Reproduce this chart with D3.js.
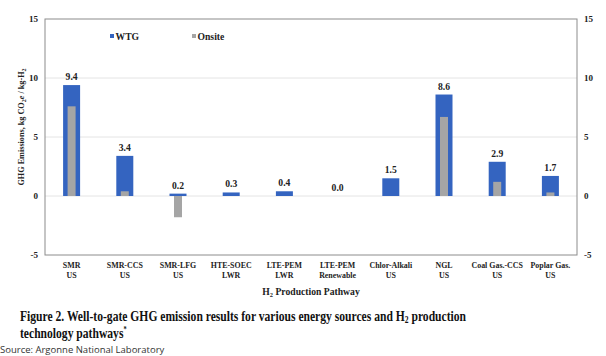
<!DOCTYPE html>
<html><head><meta charset="utf-8">
<script src="https://cdn.jsdelivr.net/npm/d3@7"></script>
<style>body{margin:0;background:#fff}svg{display:block}</style>
</head><body><svg id="c" width="606" height="356"></svg>
<script>
const categories = [["SMR","US"],["SMR-CCS","US"],["SMR-LFG","US"],["HTE-SOEC","LWR"],["LTE-PEM","LWR"],["LTE-PEM","Renewable"],["Chlor-Alkali","US"],["NGL","US"],["Coal Gas.-CCS","US"],["Poplar Gas.","US"]];
const wtg = [9.4, 3.4, 0.2, 0.3, 0.4, 0.0, 1.5, 8.6, 2.9, 1.7];
const onsite = [7.6, 0.4, -1.8, 0, 0, 0, 0, 6.7, 1.2, 0.3];
const yTicks = [-5, 0, 5, 10, 15];
const seriesNames = ["WTG", "Onsite"];
const colors = ["#3464c0", "#a5a5a5"];

const svg = d3.select("#c");
const serif = "Liberation Serif, Times New Roman, serif";
const L = 45, R = 577, T = 19, B = 255;
const x = d3.scaleBand().domain(d3.range(categories.length)).range([L, R]);
const y = d3.scaleLinear().domain([-5, 15]).range([B, T]);

// gridlines
svg.append("g").selectAll("line").data([0,5,10]).join("line")
  .attr("x1", L).attr("x2", R).attr("y1", d=>y(d)).attr("y2", d=>y(d))
  .attr("stroke", "#e4e4e4").attr("stroke-width", 1);

// bars
const wW = 17, oW = 8;
svg.append("g").selectAll("rect").data(wtg).join("rect")
  .attr("x", (d,i)=>x(i)+x.bandwidth()/2-wW/2).attr("width", wW)
  .attr("y", d=>y(Math.max(0,d))).attr("height", d=>Math.abs(y(d)-y(0)))
  .attr("fill", colors[0]);
svg.append("g").selectAll("rect").data(onsite).join("rect")
  .attr("x", (d,i)=>x(i)+x.bandwidth()/2-oW/2).attr("width", oW)
  .attr("y", d=>y(Math.max(0,d))).attr("height", d=>Math.abs(y(d)-y(0)))
  .attr("fill", colors[1]);

// value labels
svg.append("g").selectAll("text").data(wtg).join("text")
  .attr("transform", (d,i)=>`translate(${x(i)+x.bandwidth()/2},${y(Math.max(0,d))-5}) scale(0.92,1)`)
  .attr("text-anchor","middle").attr("font-family", serif).attr("font-weight","bold")
  .attr("font-size", 10.5).attr("fill","#222").text(d=>d.toFixed(1));

// frame
svg.append("rect").attr("x", L).attr("y", T).attr("width", R-L).attr("height", B-T)
  .attr("fill","none").attr("stroke","#8c8c8c").attr("stroke-width",1);

// axes
const fmt = d => String(d);
const yl = d3.axisLeft(y).tickValues(yTicks).tickFormat(fmt).tickSize(0).tickPadding(7);
const yr = d3.axisRight(y).tickValues(yTicks).tickFormat(fmt).tickSize(0).tickPadding(7);
const gl = svg.append("g").attr("transform",`translate(${L},0)`).call(yl);
const gr = svg.append("g").attr("transform",`translate(${R},0)`).call(yr);
[gl,gr].forEach(g=>{
  g.select(".domain").remove();
  g.selectAll("text").attr("font-family", serif).attr("font-weight","bold").attr("font-size",9).attr("fill","#222");
});

// x labels
const xl = svg.append("g").selectAll("text").data(categories).join("text")
  .attr("transform", (d,i)=>`translate(${x(i)+x.bandwidth()/2},268) scale(0.88,1)`)
  .attr("text-anchor","middle").attr("font-family", serif).attr("font-weight","bold")
  .attr("font-size", 9).attr("fill","#222");
xl.each(function(d,i){
  const t = d3.select(this);
  d.forEach((s,j)=>t.append("tspan").attr("x", 0).attr("y", j*10).text(s));
});

// axis titles
const xt = svg.append("text").attr("transform",`translate(${(L+R)/2},295) scale(0.92,1)`).attr("text-anchor","middle")
  .attr("font-family", serif).attr("font-weight","bold").attr("font-size",10.5).attr("fill","#222");
xt.append("tspan").text("H");
xt.append("tspan").attr("font-size",7).attr("dy",2).text("2");
xt.append("tspan").attr("dy",-2).text(" Production Pathway");

const yt = svg.append("text").attr("transform","translate(24,127) rotate(-90)").attr("text-anchor","middle")
  .attr("font-family", serif).attr("font-weight","bold").attr("font-size",8.2).attr("fill","#222");
yt.append("tspan").text("GHG Emissions, kg CO");
yt.append("tspan").attr("font-size",6).attr("dy",1.5).text("2");
yt.append("tspan").attr("dy",-1.5).attr("font-style","italic").text("e");
yt.append("tspan").text(" / kg-H");
yt.append("tspan").attr("font-size",6).attr("dy",1.5).text("2");

// legend
const lx = [110, 192];
seriesNames.forEach((n,i)=>{
  svg.append("rect").attr("x", lx[i]).attr("y", 34).attr("width",4).attr("height",4).attr("fill",colors[i]);
  svg.append("text").attr("transform",`translate(${lx[i]+5.5},39.5) scale(0.92,1)`).attr("font-family", serif).attr("font-weight","bold")
    .attr("font-size",10.5).attr("fill","#222").text(n);
});

// caption
const capG = svg.append("g").attr("transform","translate(20,0) scale(0.8,1)");
const cap = capG.append("text").attr("font-family", serif).attr("font-weight","bold").attr("font-size",14.5).attr("fill","#111");
cap.append("tspan").attr("x",0).attr("y",321).text("Figure 2. Well-to-gate GHG emission results for various energy sources and H");
cap.append("tspan").attr("font-size",9.5).attr("dy",2).text("2");
cap.append("tspan").attr("dy",-2).text(" production");
const cap2 = capG.append("text").attr("font-family", serif).attr("font-weight","bold").attr("font-size",14.5).attr("fill","#111").attr("x",0).attr("y",338);
cap2.append("tspan").text("technology pathways");
cap2.append("tspan").attr("font-size",8).attr("dy",-6).text("*");

svg.append("text").attr("x",0).attr("y",352.5).attr("font-family","Open Sans, sans-serif").attr("font-size",9.5)
  .attr("fill","#333").text("Source: Argonne National Laboratory");
</script></body></html>
